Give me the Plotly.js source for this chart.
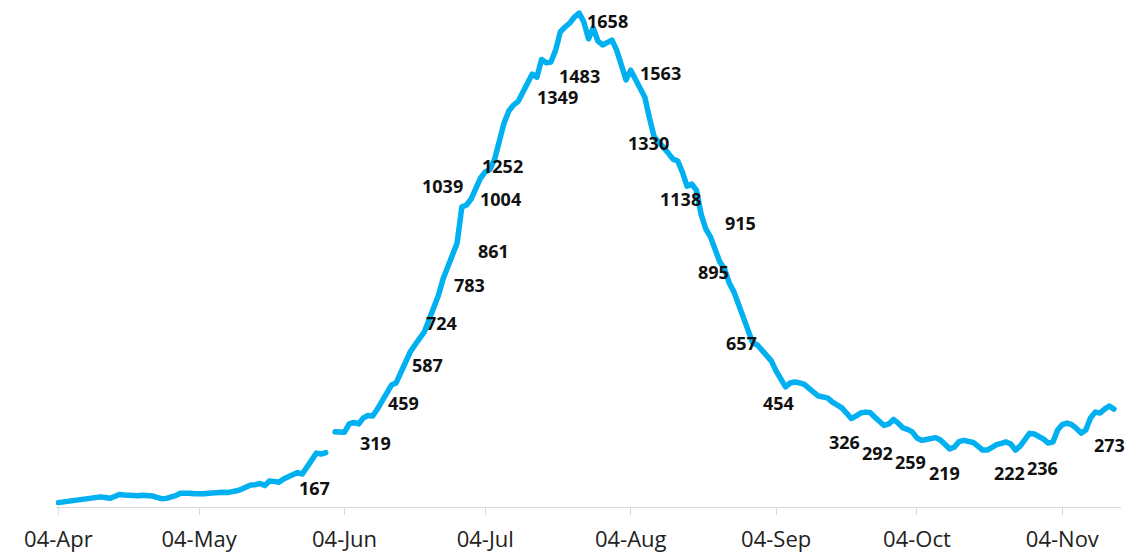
<!DOCTYPE html>
<html>
<head>
<meta charset="utf-8">
<script src="https://cdn.plot.ly/plotly-3.0.1.min.js"></script>
<style>
  html, body { margin: 0; padding: 0; background: #ffffff; }
  #chart { width: 1148px; height: 556px; }
  #chart .js-line { stroke-linecap: round !important; stroke-linejoin: round !important; }
</style>
</head>
<body>
<div id="chart"></div>
<script>
// ---- data ----
const startDate = '2020-04-04';
// one value per day from 04-Apr (null = missing day)
const dailyValues = [
  49,51,53,54,56,58,60,65,68,68,
  66,63,69,76,74,72,72,72,73,73,
  71,66,62,63,66,72,80,81,80,78,
  77,78,80,82,83,83,82,84,88,93,
  100,107,108,112,105,120,119,116,127,135,
  143,148,143,166,189,212,209,214,null,282,
  282,281,308,313,308,328,336,334,357,384,
  413,436,443,479,515,545,568,589,611,650,
  690,731,785,828,865,904,1022,1029,1049,1085,
  1118,1138,1146,1180,1250,1299,1338,1358,1370,1401,
  1437,1460,1450,1508,1497,1500,1539,1599,1615,1628,
  1648,1661,1632,1576,1612,1569,1556,1562,1572,1539,
  1483,1441,1473,1441,1417,1384,1315,1253,1236,1220,
  1200,1180,1174,1138,1091,1098,1078,999,950,924,
  884,841,818,772,743,700,657,624,575,568,
  548,535,515,482,453,430,443,446,443,438,
  425,410,400,397,393,380,370,361,344,326,
  334,344,347,346,331,319,303,308,323,311,
  295,290,282,262,254,257,258,263,255,240,
  226,232,250,254,250,247,235,222,222,232,
  240,244,249,242,222,235,258,277,275,268,
  258,245,249,288,306,311,306,293,278,288,
  328,347,344,357,367,357
];
const tickDates = ['2020-04-04','2020-05-04','2020-06-04','2020-07-04','2020-08-04','2020-09-04','2020-10-04','2020-11-04'];
const tickLabels = ['04-Apr','04-May','04-Jun','04-Jul','04-Aug','04-Sep','04-Oct','04-Nov'];
const labelTexts = ['167','319','459','587','724','783','861','1039','1004','1252','1349','1483','1658','1563','1330','1138','915','895','657','454','326','292','259','219','222','236','273'];

// ---- layout positions for the value labels: [day offset from start, level] ----
const labelPos = [
  [54.7,97],[67.5,245],[73.5,378],[78.6,502],[81.6,639],[87.7,766],[92.8,877],
  [81.9,1092],[94.3,1048],[94.7,1157],[106.3,1386],[111.0,1454],[117.1,1636],
  [128.4,1465],[125.7,1234],[132.7,1048],[145.4,971],[139.6,807],[145.6,574],
  [153.6,376],[167.6,250],[174.7,213],[181.7,184],[188.8,148],[202.8,146],
  [209.8,162],[224.1,239]
];

const DAY = 86400000;
const t0 = Date.parse(startDate + 'T00:00:00Z');
function dayToDate(d) {
  return new Date(t0 + d * DAY).toISOString().slice(0, 19).replace('T', ' ');
}
const dates = dailyValues.map((_, i) => dayToDate(i));

const trace = {
  x: dates,
  y: dailyValues,
  type: 'scatter',
  mode: 'lines',
  connectgaps: false,
  line: { color: '#00B0F0', width: 5.5, shape: 'linear' },
  hoverinfo: 'x+y'
};

const annotations = labelTexts.map((t, i) => ({
  x: dayToDate(labelPos[i][0]),
  y: labelPos[i][1],
  xref: 'x', yref: 'y',
  text: '<b>' + t + '</b>',
  showarrow: false,
  xanchor: 'center', yanchor: 'middle',
  font: { family: 'Open Sans, Arial, sans-serif', size: 18, color: '#111111' }
}));

const layout = {
  width: 1148, height: 556,
  margin: { l: 56, r: 27, t: 5, b: 49 },
  paper_bgcolor: '#ffffff',
  plot_bgcolor: '#ffffff',
  showlegend: false,
  xaxis: {
    type: 'date',
    range: [dayToDate(-0.5), dayToDate(226.5)],
    tickmode: 'array',
    tickvals: tickDates,
    ticktext: tickLabels,
    showgrid: false,
    zeroline: false,
    showline: true,
    linecolor: '#d9d9d9',
    linewidth: 1,
    ticks: 'outside',
    ticklen: 7,
    tickwidth: 1,
    tickcolor: '#d9d9d9',
    tickfont: { family: 'Open Sans, Arial, sans-serif', size: 22, color: '#222222' },
    ticklabelstandoff: 6
  },
  yaxis: {
    range: [34.6, 1687.5],
    visible: false,
    showgrid: false,
    zeroline: false
  },
  annotations: annotations
};

Plotly.newPlot('chart', [trace], layout, { displayModeBar: false, staticPlot: true });
</script>
</body>
</html>
